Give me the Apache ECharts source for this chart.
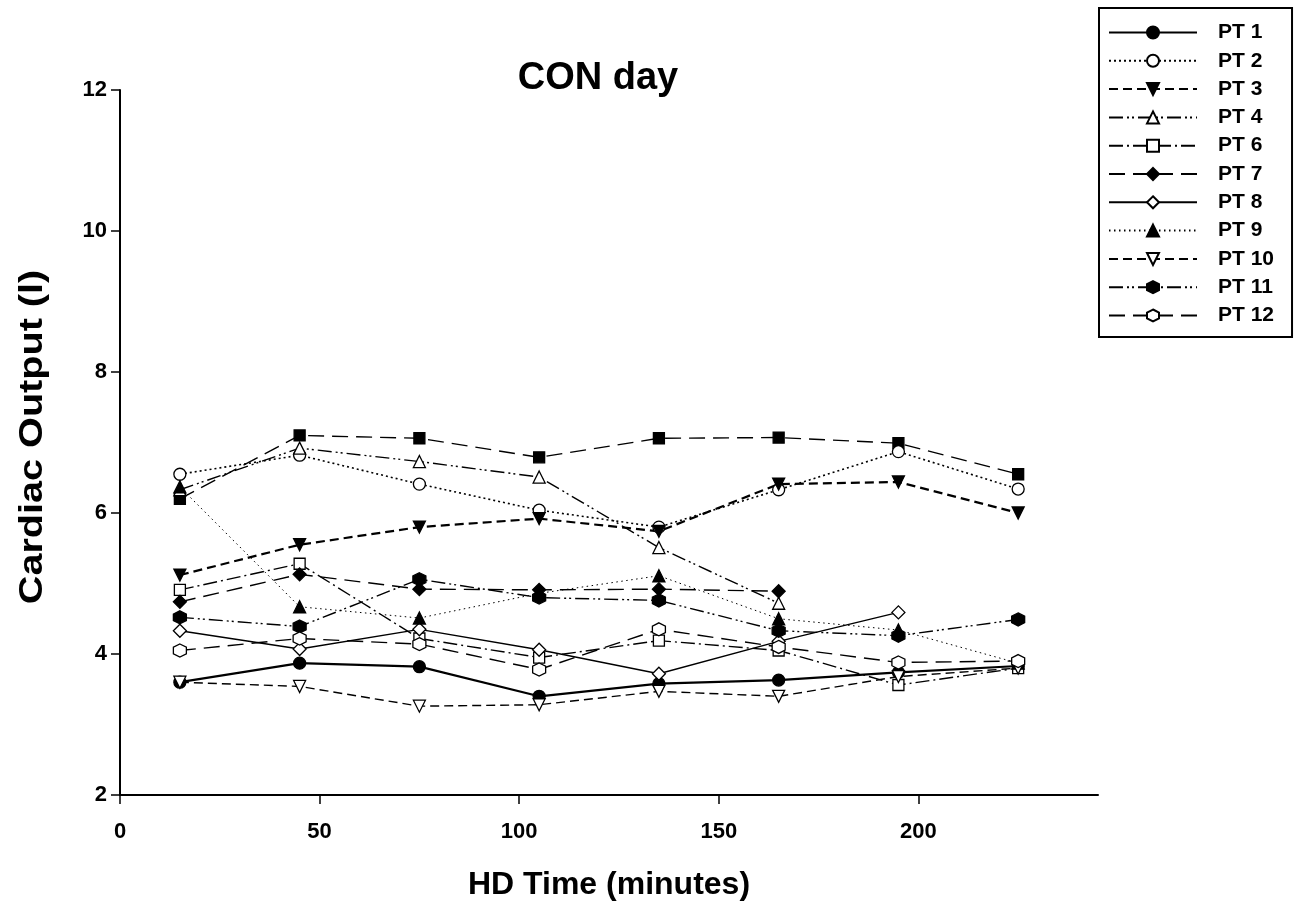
<!DOCTYPE html>
<html>
<head>
<meta charset="utf-8">
<script src="https://cdn.jsdelivr.net/npm/echarts@6/dist/echarts.min.js"></script>
<style>html,body{margin:0;padding:0;background:#fff;}#c{width:1301px;height:908px;}</style>
</head>
<body>
<div id="c"></div>
<script>
// HD time points (minutes)
const times = [15, 45, 75, 105, 135, 165, 195, 225];
const xTicks = [0, 50, 100, 150, 200];
const yTicks = [2, 4, 6, 8, 10, 12];
// Cardiac output (l) per patient
const pt1  = [3.60, 3.87, 3.82, 3.40, 3.58, 3.63, 3.74, 3.83];
const pt2  = [6.55, 6.82, 6.41, 6.04, 5.80, 6.33, 6.87, 6.34];
const pt3  = [5.12, 5.55, 5.80, 5.92, 5.74, 6.41, 6.44, 6.00];
const pt4  = [6.33, 6.92, 6.73, 6.51, 5.51, 4.72, null, null];
const pt5  = [6.20, 7.10, 7.06, 6.79, 7.06, 7.07, 6.99, 6.55];
const pt6  = [4.91, 5.28, 4.22, 3.95, 4.19, 4.05, 3.56, 3.80];
const pt7  = [4.74, 5.13, 4.92, 4.91, 4.92, 4.89, null, null];
const pt8  = [4.33, 4.07, 4.35, 4.06, 3.72, 4.18, 4.59, null];
const pt9  = [6.37, 4.67, 4.51, 4.86, 5.11, 4.50, 4.34, 3.87];
const pt10 = [3.60, 3.54, 3.26, 3.28, 3.47, 3.40, 3.68, 3.80];
const pt11 = [4.52, 4.39, 5.06, 4.80, 4.76, 4.33, 4.26, 4.49];
const pt12 = [4.05, 4.22, 4.14, 3.78, 4.35, 4.10, 3.88, 3.90];
const legendNames = ['PT 1','PT 2','PT 3','PT 4','PT 6','PT 7','PT 8','PT 9','PT 10','PT 11','PT 12'];
const titleText = 'CON day';
const xTitle = 'HD Time (minutes)';
const yTitle = 'Cardiac Output (l)';

const HEX = 'path://M0,-10 L8.66,-5 L8.66,5 L0,10 L-8.66,5 L-8.66,-5 Z';
const DIAM = 'path://M0,-10 L10,0 L0,10 L-10,0 Z';
const TRI = 'path://M0,-9 L10,8 L-10,8 Z';
const TRID = 'path://M-10,-8 L10,-8 L0,9 Z';
const DASH = [9, 5];
const LDASH = [16, 8];
const DASHDOT = [14, 4, 2, 4];
const DASHDOTDOT = [14, 4, 2, 3, 2, 4];
const DOT = [2, 3];

function mk(name, vals, symbol, filled, dash, width, size) {
  return {
    name: name,
    type: 'line',
    data: times.map((t, i) => [t, vals[i]]).filter(d => d[1] !== null),
    symbol: symbol,
    symbolSize: size,
    showAllSymbol: true,
    animation: false,
    lineStyle: { color: '#000', width: width, type: dash },
    itemStyle: { color: filled ? '#000' : '#fff', borderColor: '#000', borderWidth: 1.3, opacity: 1 },
    emphasis: { disabled: true }
  };
}

const series = [
  mk('PT 5',  pt5,  'rect',   true,  LDASH,      1.4, 11),
  mk('PT 1',  pt1,  'circle', true,  'solid',    2.2, 12),
  mk('PT 2',  pt2,  'circle', false, DOT,        1.6, 12),
  mk('PT 3',  pt3,  TRID,     true,  DASH,       2.2, 12),
  mk('PT 4',  pt4,  TRI,      false, DASHDOTDOT, 1.4, 12),
  mk('PT 6',  pt6,  'rect',   false, DASHDOT,    1.4, 11),
  mk('PT 7',  pt7,  DIAM,     true,  LDASH,      1.4, 13),
  mk('PT 8',  pt8,  DIAM,     false, 'solid',    1.4, 13),
  mk('PT 9',  pt9,  TRI,      true,  [1.5, 3.5], 1.0, 12),
  mk('PT 10', pt10, TRID,     false, DASH,       1.4, 12),
  mk('PT 11', pt11, HEX,      true,  DASHDOTDOT, 1.4, 13),
  mk('PT 12', pt12, HEX,      false, LDASH,      1.4, 13)
];

const F = 'Liberation Sans';
const chart = echarts.init(document.getElementById('c'), null, { renderer: 'canvas' });
chart.setOption({
  backgroundColor: '#fff',
  animation: false,
  title: {
    text: titleText,
    left: 593, top: 55, textAlign: 'center',
    textStyle: { fontFamily: F, fontWeight: 'bold', fontSize: 38, color: '#000' }
  },
  legend: {
    data: legendNames,
    orient: 'vertical',
    left: 1099, top: 8,
    itemWidth: 88, itemHeight: 15, itemGap: 7.3,
    padding: [14, 18, 11, 9],
    borderColor: '#000', borderWidth: 2,
    textStyle: { fontFamily: F, fontWeight: 'bold', fontSize: 21, lineHeight: 20, color: '#000', padding: [0, 0, 0, 16] },
    selectedMode: false
  },
  grid: { left: 120, right: 203, top: 90, bottom: 113, containLabel: false },
  xAxis: {
    type: 'value', min: 0, max: 245, interval: 50,
    name: xTitle, nameLocation: 'middle', nameGap: 74,
    nameTextStyle: { fontFamily: F, fontWeight: 'bold', fontSize: 32, color: '#000' },
    axisLine: { show: true, lineStyle: { color: '#000', width: 2 } },
    axisTick: { show: true, length: 9, inside: false, customValues: xTicks, lineStyle: { color: '#000', width: 1.5 } },
    axisLabel: { customValues: xTicks, margin: 26, fontFamily: F, fontWeight: 'bold', fontSize: 22, color: '#000' },
    splitLine: { show: false }
  },
  yAxis: {
    type: 'value', min: 2, max: 12, interval: 2,
    axisLine: { show: true, lineStyle: { color: '#000', width: 2 } },
    axisTick: { show: true, length: 9, inside: false, customValues: yTicks, lineStyle: { color: '#000', width: 1.5 } },
    axisLabel: { customValues: yTicks, margin: 13, fontFamily: F, fontWeight: 'bold', fontSize: 22, color: '#000' },
    splitLine: { show: false }
  },
  graphic: [{
    type: 'text',
    x: 33, y: 437,
    rotation: Math.PI / 2,
    scaleX: 1.2,
    style: { text: yTitle, font: 'bold 33px "Liberation Sans"', fill: '#000', align: 'center', verticalAlign: 'middle' }
  }],
  series: series
});
</script>
</body>
</html>
